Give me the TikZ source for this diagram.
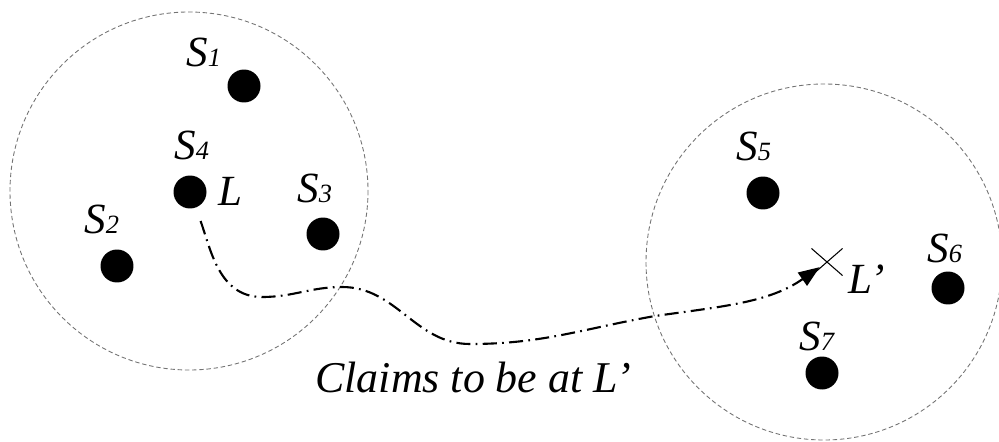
\documentclass[tikz,border=0pt]{standalone}
\usepackage{fontspec}
\setmainfont{Liberation Serif}
\usetikzlibrary{arrows.meta,shapes.misc}
\newcommand{\sname}[1]{S{\fontsize{15}{15}\selectfont#1}}

\begin{document}
\begin{tikzpicture}[x=0.02cm,y=-0.02cm,
    region/.style={draw=black!55, dash pattern=on 2.5pt off 1.6pt, line width=0.5pt},
    beacon/.style={circle, fill=black, inner sep=0pt, minimum size=0.66cm},
    tag/.style={anchor=base west, inner sep=0pt, font=\fontsize{24.5}{28}\selectfont\itshape},
    claim/.style={line width=1.2pt, dash pattern=on 8pt off 3pt on 1pt off 3pt,
        -{Triangle[length=12pt,width=9pt]}, shorten >=0.18cm, shorten <=0.28cm}]
    \useasboundingbox (0,0) rectangle (999,442);

    % Neighbourhoods
    \draw[region] (189,191) circle[radius=179];
    \draw[region] (824,262) circle[radius=178];

    % Nodes of the left region
    \node[beacon] (s1) at (244,86) {};
    \node[beacon] (s2) at (117,266) {};
    \node[beacon] (s3) at (323,234) {};
    \node[beacon] (s4) at (190,192) {};
    \node[tag] (t1) at (186,67) {\sname{1}};
    \node[tag] (t2) at (84,233) {\sname{2}};
    \node[tag] (t3) at (297,202) {\sname{3}};
    \node[tag] (t4) at (174,159) {\sname{4}};
    \node[tag] (tl) at (218,205) {L};

    % Nodes of the right region
    \node[beacon] (s5) at (763,193) {};
    \node[beacon] (s6) at (948,288) {};
    \node[beacon] (s7) at (822,373) {};
    \node[tag] (t5) at (736,160) {\sname{5}};
    \node[tag] (t6) at (927,262) {\sname{6}};
    \node[tag] (t7) at (799,350) {\sname{7}};

    % Claimed position
    \node[cross out, draw, line width=0.6pt, inner sep=0pt,
        minimum width=0.6cm, minimum height=0.52cm] (lp) at (827,262) {};
    \node[tag] (tlp) at (848,293) {L’};

    % False claim
    \draw[claim] (s4.290) to[out=-70,in=180] (262,297) to[out=0,in=180] (342,287)
        to[out=0,in=180] (470,344) to[out=0,in=190] (655,316) to[out=8,in=-145] (lp.center);
    \node[tag, font=\fontsize{25}{30}\selectfont\itshape] (note) at (315,392) {Claims to be at L’};
\end{tikzpicture}
\end{document}
